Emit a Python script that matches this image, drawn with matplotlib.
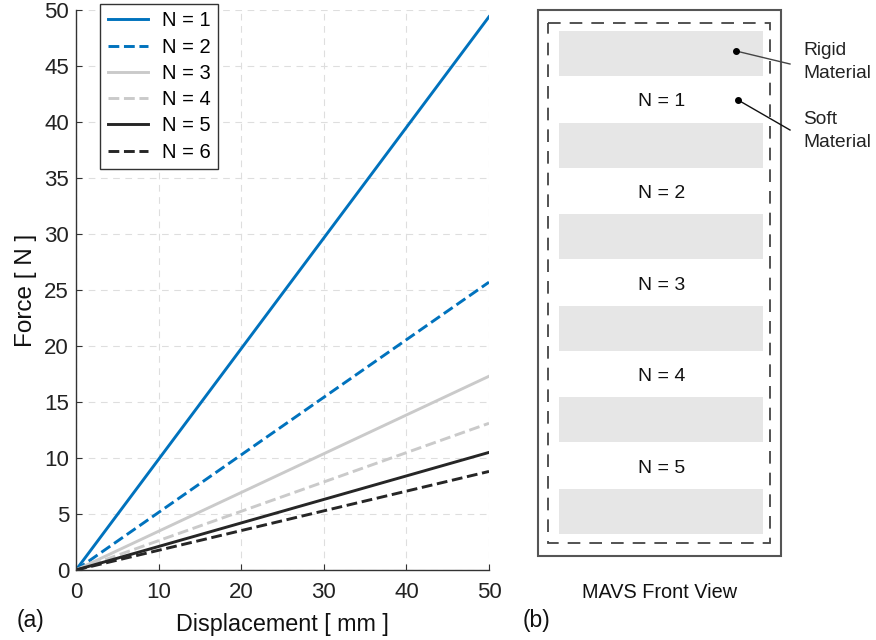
import matplotlib.pyplot as plt
from matplotlib.patches import Rectangle

plt.rcParams['font.family'] = ['Liberation Sans', 'DejaVu Sans']

# force-displacement, straight lines from the origin
displacement = [0, 50]
labels = ['N = 1', 'N = 2', 'N = 3', 'N = 4', 'N = 5', 'N = 6']
forces = [
    [0, 49.4],
    [0, 25.7],
    [0, 17.3],
    [0, 13.1],
    [0, 10.5],
    [0, 8.8],
]
colors = ['#0072BD', '#0072BD', '#cacaca', '#cacaca', '#262626', '#262626']
styles = ['-', '--', '-', '--', '-', '--']
xticks = [0, 10, 20, 30, 40, 50]
yticks = [0, 5, 10, 15, 20, 25, 30, 35, 40, 45, 50]

# segment names in the schematic
segments = ['N = 1', 'N = 2', 'N = 3', 'N = 4', 'N = 5']

W, H = 876, 640
fig = plt.figure(figsize=(W / 100, H / 100), dpi=100)

ax = fig.add_axes([76 / W, 1 - 570 / H, (489 - 76) / W, (570 - 10) / H])
for f, c, ls, lab in zip(forces, colors, styles, labels):
    ax.plot(displacement, f, color=c, linestyle=ls, linewidth=2.1, label=lab)

ax.set_xlim(0, 50)
ax.set_ylim(0, 50)
ax.set_xticks(xticks)
ax.set_yticks(yticks)
ax.tick_params(direction='in', length=4, labelsize=16, colors='#333333',
               labelcolor='#222222', width=0.8)
ax.tick_params(axis='x', pad=8.5)
ax.tick_params(axis='y', pad=5)
ax.grid(True, color='#dedede', linestyle=(0, (6, 5)), linewidth=0.8)
ax.set_axisbelow(True)
for s in ['top', 'right']:
    ax.spines[s].set_visible(False)
for s in ['left', 'bottom']:
    ax.spines[s].set_color('#333333')
    ax.spines[s].set_linewidth(1.0)
ax.set_xlabel('Displacement [ mm ]', fontsize=16.8, labelpad=7, color='#111111')
ax.set_ylabel('Force [ N ]', fontsize=17.5, labelpad=5, color='#111111')

leg = ax.legend(loc='upper left', bbox_to_anchor=(0.058, 1.011), borderaxespad=0,
                fontsize=14.5, fancybox=False, edgecolor='#333333', framealpha=1,
                handlelength=2.0, handletextpad=0.7, labelspacing=0.36,
                borderpad=0.38)
leg.get_frame().set_linewidth(1.0)

# schematic panel drawn in pixel coordinates
sk = fig.add_axes([0, 0, 1, 1])
sk.set_xlim(0, W)
sk.set_ylim(H, 0)
sk.axis('off')
sk.patch.set_alpha(0)

sk.add_patch(Rectangle((538, 10), 243, 546, fill=False, edgecolor='#555555', linewidth=1.5))
sk.add_patch(Rectangle((548, 23), 222, 520, fill=False, edgecolor='#444444',
                       linewidth=1.3, linestyle=(0, (7, 5))))
bar_top = 31
pitch = 91.6
for i in range(6):
    y0 = bar_top + i * pitch
    sk.add_patch(Rectangle((559, y0), 204, 45, facecolor='#e6e6e6', edgecolor='none'))
for i, name in enumerate(segments):
    sk.text(662, bar_top + 45 + i * pitch + 26, name, ha='center', va='center',
            fontsize=14, color='#111111')

sk.plot([736, 790], [51, 64], color='#444444', linewidth=1.0)
sk.plot([736], [51], 'o', color='black', markersize=4)
sk.plot([738, 790], [100, 130], color='#111111', linewidth=1.0)
sk.plot([738], [100], 'o', color='black', markersize=4)
sk.text(803, 62, 'Rigid\nMaterial', ha='left', va='center', fontsize=13.8,
        color='#222222', linespacing=1.45)
sk.text(803, 131, 'Soft\nMaterial', ha='left', va='center', fontsize=13.8,
        color='#222222', linespacing=1.45)

sk.text(660, 592, 'MAVS Front View', ha='center', va='center', fontsize=14.3, color='#111111')
sk.text(17, 621, '(a)', ha='left', va='center', fontsize=16.5, color='#111111')
sk.text(523, 621, '(b)', ha='left', va='center', fontsize=16.5, color='#111111')

fig.savefig('out.png', dpi=100)
